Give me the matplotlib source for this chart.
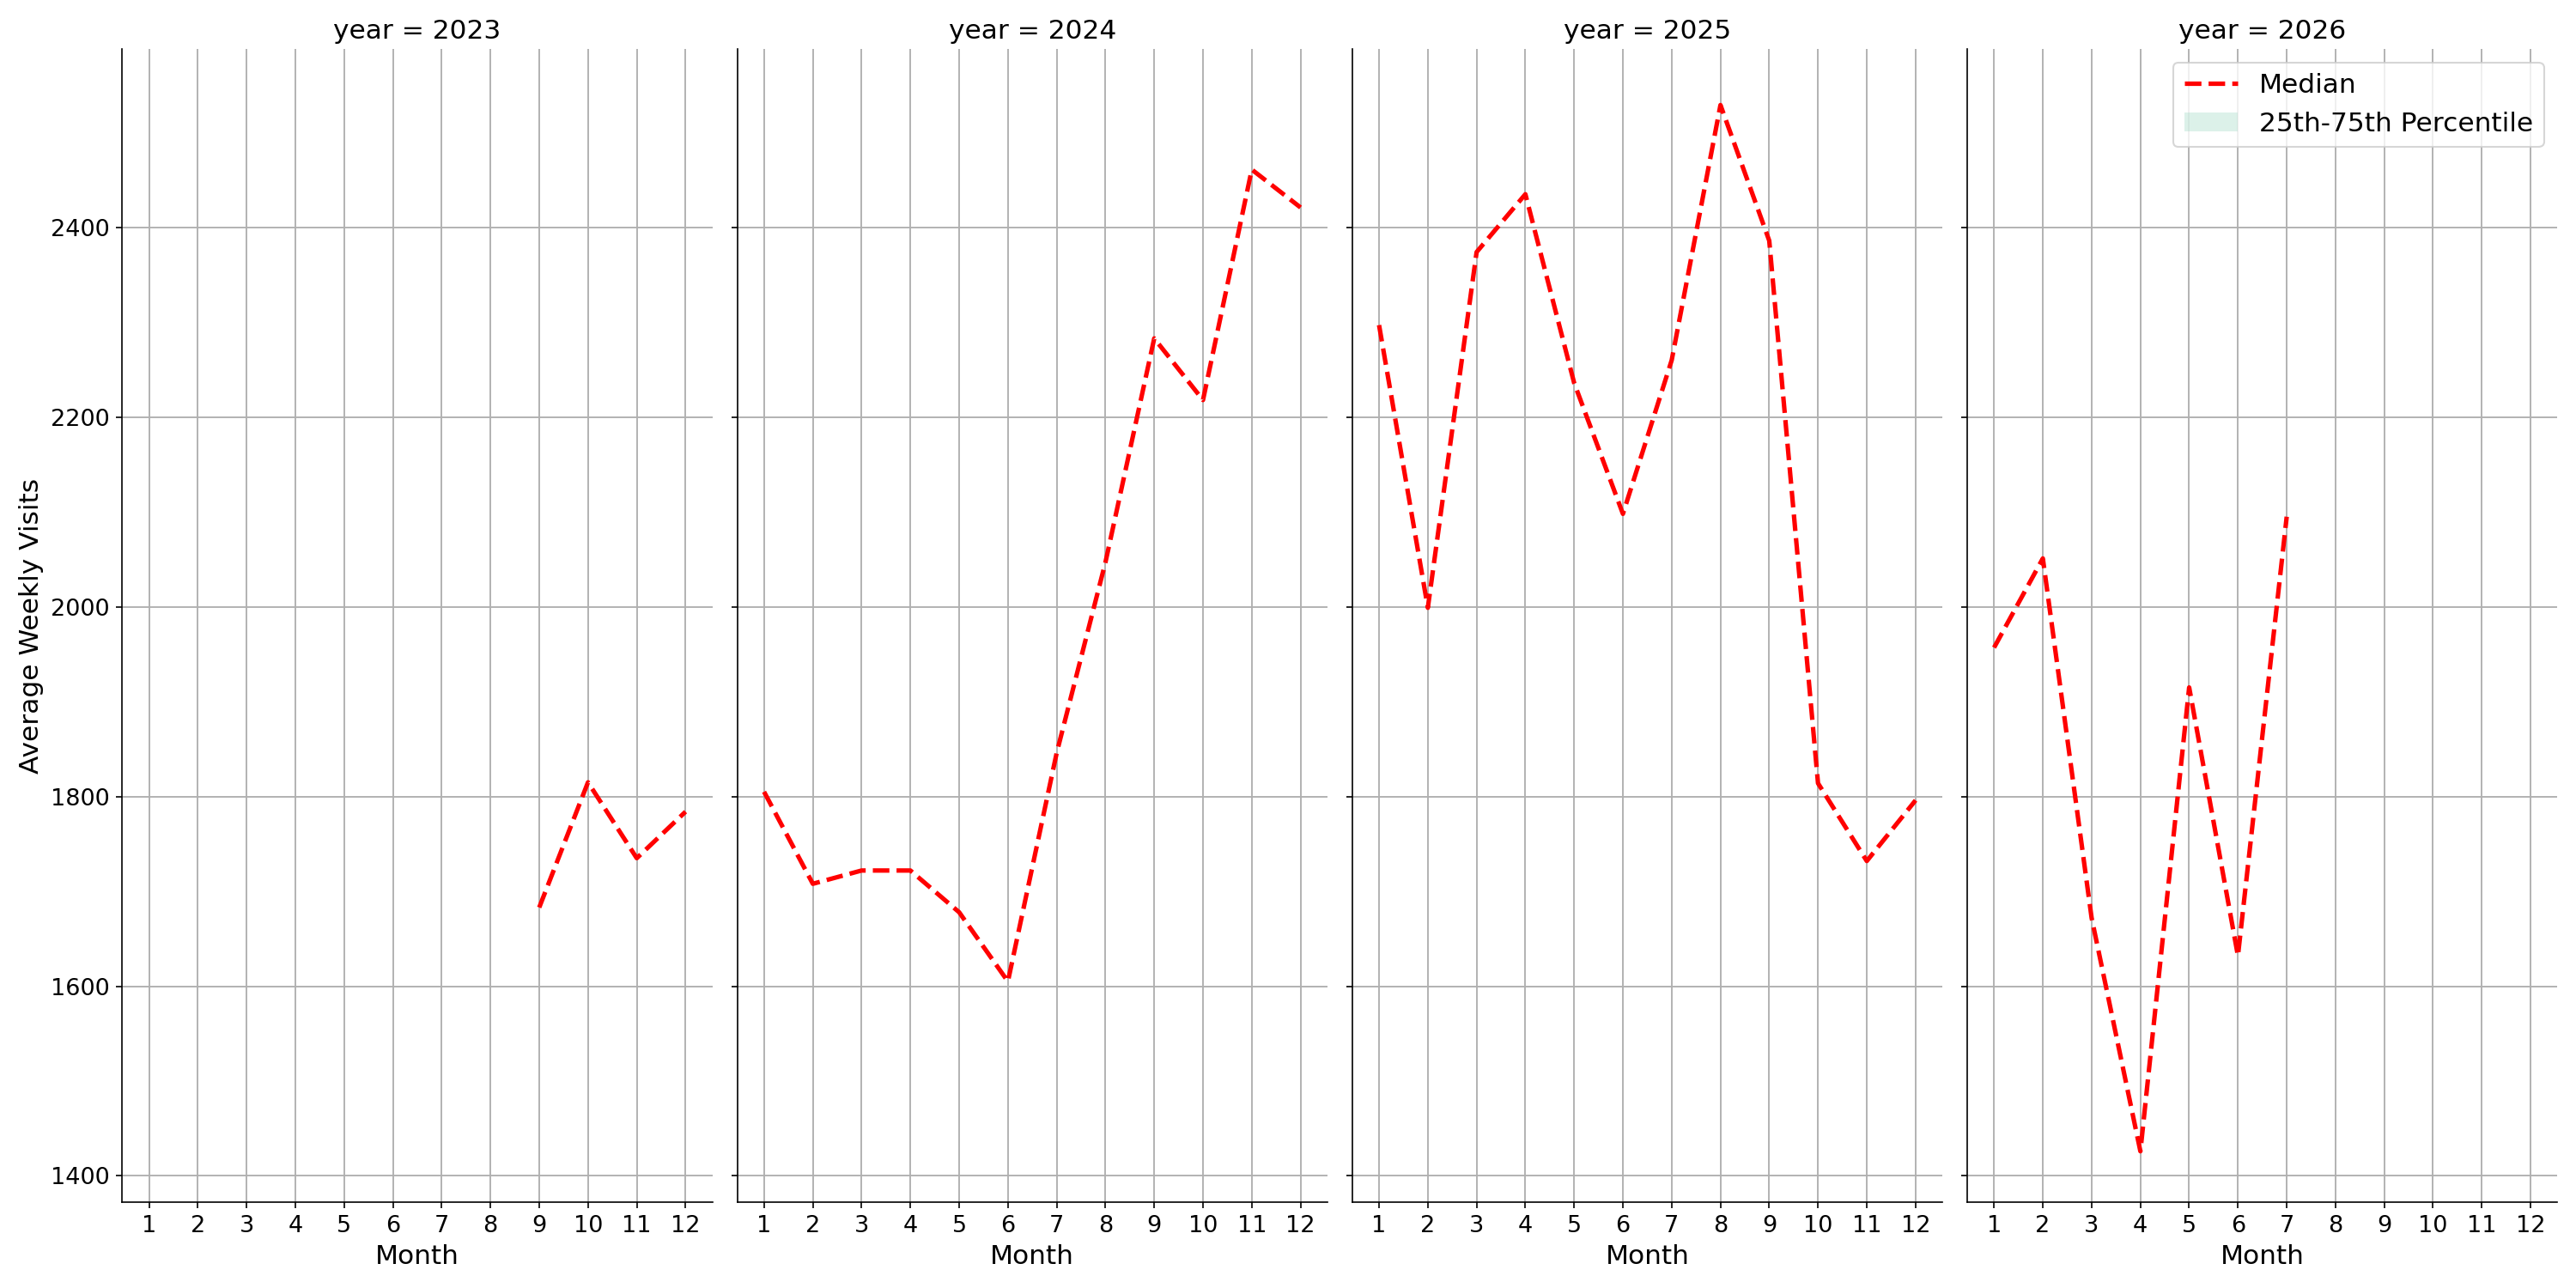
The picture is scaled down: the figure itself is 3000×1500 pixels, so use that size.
import matplotlib
matplotlib.use("Agg")
import matplotlib.pyplot as plt
from matplotlib.patches import Patch
from matplotlib.lines import Line2D

years = [2023, 2024, 2025, 2026]
months = list(range(1, 13))
median = {
    2023: ([9, 10, 11, 12], [1683, 1815, 1735, 1784]),
    2024: (months, [1805, 1708, 1722, 1722, 1678, 1605, 1846, 2047, 2283, 2218, 2461, 2421]),
    2025: (months, [2297, 1999, 2374, 2435, 2236, 2098, 2260, 2529, 2386, 1814, 1732, 1796]),
    2026: ([1, 2, 3, 4, 5, 6, 7], [1957, 2051, 1672, 1426, 1915, 1632, 2095]),
}

plt.rcParams['font.size'] = 13
fig, axes = plt.subplots(1, 4, figsize=(20, 10), dpi=150, sharey=True)
for ax, yr in zip(axes, years):
    x, y = median[yr]
    ax.plot(x, y, color='red', linestyle='--', linewidth=2.5)
    ax.set_title(f"year = {yr}", fontsize=15)
    ax.set_xticks(months)
    ax.set_xlim(0.45, 12.55)
    ax.set_ylim(1372, 2588)
    ax.set_yticks([1400, 1600, 1800, 2000, 2200, 2400])
    ax.grid(True, color='#b0b0b0', linewidth=0.9)
    ax.set_axisbelow(True)
    ax.spines['top'].set_visible(False)
    ax.spines['right'].set_visible(False)
    ax.set_xlabel("Month", fontsize=15)
    ax.tick_params(labelsize=13)
axes[0].set_ylabel("Average Weekly Visits", fontsize=15)
handles = [Line2D([0], [0], color='red', linestyle='--', linewidth=2.5),
           Patch(facecolor='#a8dcc8', alpha=0.4)]
axes[3].legend(handles, ["Median", "25th-75th Percentile"], loc='upper right', fontsize=15)
fig.tight_layout(pad=0.8)
fig.savefig("out.png")
